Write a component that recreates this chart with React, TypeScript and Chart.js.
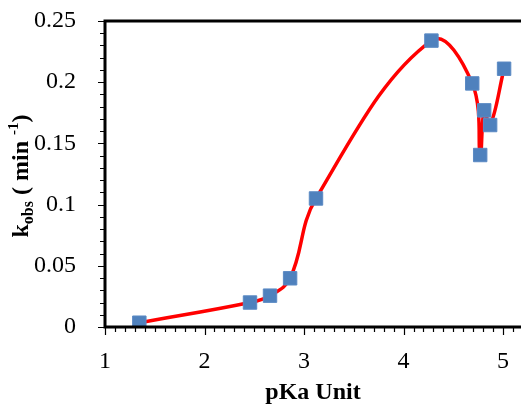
import { useEffect, useRef } from 'react';
import { Chart, registerables } from 'chart.js';

Chart.register(...registerables);

const pKa = [1.345, 2.457, 2.658, 2.86, 3.12, 4.28, 4.69, 4.77, 4.81, 4.87, 5.01];
const kobs = [0.0035, 0.02, 0.0256, 0.0398, 0.105, 0.234, 0.199, 0.1405, 0.177, 0.165, 0.211];
const xTicks = [1, 2, 3, 4, 5];
const yTicks = [0, 0.05, 0.1, 0.15, 0.2, 0.25];
const yTickLabels = ['0', '0.05', '0.1', '0.15', '0.2', '0.25'];
const xTitle = 'pKa Unit';
const yTitleParts = [
  { text: 'k', size: 24, shift: 0 },
  { text: 'obs', size: 16, shift: 5 },
  { text: ' ( min ', size: 24, shift: 0 },
  { text: '-1', size: 15, shift: -10 },
  { text: ')', size: 24, shift: 0 },
];

const FONT = '"Liberation Serif", "Times New Roman", serif';

const axesPlugin = {
  id: 'axesPlugin',
  afterDatasetsDraw(chart: any) {
    const ctx = chart.ctx as CanvasRenderingContext2D;
    const { left, top, bottom } = chart.chartArea;
    const W = chart.width;
    const xs = chart.scales.x;
    const ys = chart.scales.y;
    ctx.save();
    ctx.strokeStyle = '#000';
    ctx.lineWidth = 1.2;
    ctx.beginPath();
    for (let i = 0; i <= 45; i++) {
      const v = 1 + i * 0.1;
      const px = Math.round(xs.getPixelForValue(v)) + 0.5;
      if (px > W) break;
      const len = i % 10 === 0 ? 8 : 5;
      ctx.moveTo(px, bottom);
      ctx.lineTo(px, bottom + len);
    }
    for (let i = 0; i <= 25; i++) {
      const v = i * 0.01;
      const py = Math.round(ys.getPixelForValue(v)) + 0.5;
      const len = i % 5 === 0 ? 7 : 5;
      ctx.moveTo(left, py);
      ctx.lineTo(left - len, py);
    }
    ctx.stroke();
    ctx.lineWidth = 3;
    ctx.beginPath();
    ctx.moveTo(W, top);
    ctx.lineTo(left, top);
    ctx.lineTo(left, bottom);
    ctx.lineTo(W, bottom);
    ctx.stroke();

    ctx.fillStyle = '#000';
    ctx.font = `bold 24px ${FONT}`;
    ctx.textAlign = 'center';
    ctx.textBaseline = 'alphabetic';
    ctx.fillText(xTitle, (left + W) / 2, 399);

    const cy = (top + bottom) / 2 + 2;
    ctx.translate(28, cy);
    ctx.rotate(-Math.PI / 2);
    ctx.textAlign = 'left';
    let total = 0;
    const widths: number[] = [];
    for (const p of yTitleParts) {
      ctx.font = `bold ${p.size}px ${FONT}`;
      const w = ctx.measureText(p.text).width;
      widths.push(w);
      total += w;
    }
    let x = -total / 2;
    yTitleParts.forEach((p, i) => {
      ctx.font = `bold ${p.size}px ${FONT}`;
      ctx.fillText(p.text, x, p.shift);
      x += widths[i];
    });
    ctx.restore();
  },
};

export default function App() {
  const ref = useRef<HTMLCanvasElement | null>(null);
  useEffect(() => {
    document.body.style.margin = '0';
    const canvas = ref.current!;
    const chart = new Chart(canvas, {
      type: 'line',
      data: {
        datasets: [
          {
            data: pKa.map((x, i) => ({ x, y: kobs[i] })),
            borderColor: '#FF0000',
            borderWidth: 3.5,
            tension: 0.4,
            pointStyle: 'rect',
            pointRadius: 9.5,
            pointBackgroundColor: '#4F81BD',
            pointBorderColor: '#5B8AC4',
            pointBorderWidth: 1,
            fill: false,
          },
        ],
      },
      options: {
        responsive: false,
        animation: false,
        devicePixelRatio: 1,
        layout: { autoPadding: false, padding: { top: 21, left: 0, right: 0, bottom: 0 } },
        plugins: { legend: { display: false }, tooltip: { enabled: false } },
        scales: {
          x: {
            type: 'linear',
            min: 1,
            max: 5.18,
            grid: { display: false },
            border: { display: false },
            afterBuildTicks: (scale: any) => {
              scale.ticks = xTicks.map((v) => ({ value: v }));
            },
            afterFit: (scale: any) => {
              scale.height = 78;
              scale.paddingLeft = 0;
              scale.paddingRight = 0;
            },
            ticks: {
              color: '#000',
              font: { family: FONT, size: 24 },
              padding: 12,
              maxRotation: 0,
              callback: (v: any) => String(v),
            },
          },
          y: {
            type: 'linear',
            min: 0,
            max: 0.25,
            grid: { display: false },
            border: { display: false },
            afterBuildTicks: (scale: any) => {
              scale.ticks = yTicks.map((v) => ({ value: v }));
            },
            afterFit: (scale: any) => {
              scale.width = 105;
              scale.paddingTop = 0;
              scale.paddingBottom = 0;
            },
            ticks: {
              color: '#000',
              font: { family: FONT, size: 24 },
              padding: 21,
              callback: (v: any) => {
                const i = yTicks.findIndex((t) => Math.abs(t - v) < 1e-9);
                return i >= 0 ? yTickLabels[i] : '';
              },
            },
          },
        },
      },
      plugins: [axesPlugin],
    });
    return () => chart.destroy();
  }, []);
  return <canvas ref={ref} width={521} height={405} style={{ display: 'block' }} />;
}
